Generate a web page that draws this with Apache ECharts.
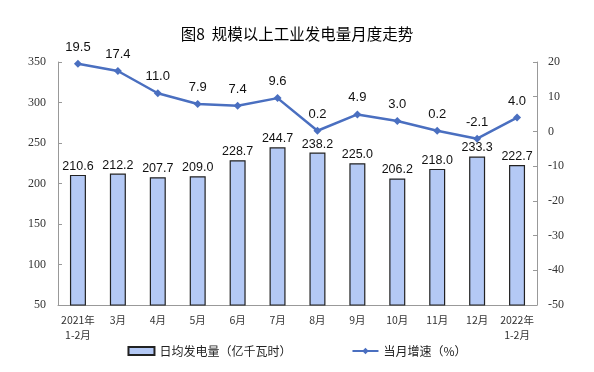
<!DOCTYPE html>
<html><head><meta charset="utf-8">
<script src="https://cdn.jsdelivr.net/npm/echarts@6/dist/echarts.min.js"></script>
<style>html,body{margin:0;padding:0;background:#fff}#c{width:594px;height:372px}</style>
</head><body><div id="c"></div>
<script>
const categories = ['2021年\n1-2月','3月','4月','5月','6月','7月','8月','9月','10月','11月','12月','2022年\n1-2月'];
const dailyOutput = [210.6, 212.2, 207.7, 209.0, 228.7, 244.7, 238.2, 225.0, 206.2, 218.0, 233.3, 222.7];
const growthRate = [19.5, 17.4, 11.0, 7.9, 7.4, 9.6, 0.2, 4.9, 3.0, 0.2, -2.1, 4.0];
const leftTicks = {min: 50, max: 350, interval: 50};
const rightTicks = {min: -50, max: 20, interval: 10};

const chart = echarts.init(document.getElementById('c'), null, {renderer: 'canvas'});
const axisLabelFont = {fontFamily: 'Liberation Serif', fontSize: 12, color: '#333'};
chart.setOption({
  animation: false,
  title: {text: '图8  规模以上工业发电量月度走势', left: 'center', top: 21,
    textStyle: {fontFamily: 'Noto Sans CJK SC', fontSize: 15.5, fontWeight: 'normal', color: '#000'}},
  grid: {left: 58, right: 57, top: 62, bottom: 67},
  legend: {bottom: 10, left: 'center', itemGap: 60, itemWidth: 26, itemHeight: 8,
    textStyle: {fontFamily: 'Noto Sans CJK SC', fontSize: 12, color: '#222'},
    data: [
      {name: '日均发电量（亿千瓦时）', icon: 'rect'},
      {name: '当月增速（%）'}
    ]},
  xAxis: {type: 'category', data: categories,
    axisLine: {onZero: false, lineStyle: {color: '#999'}},
    axisTick: {inside: true, length: 3, lineStyle: {color: '#999'}},
    axisLabel: {fontFamily: 'Noto Sans CJK SC', fontSize: 10.5, color: '#333', margin: 8, lineHeight: 15, interval: 0}},
  yAxis: [
    {type: 'value', min: leftTicks.min, max: leftTicks.max, interval: leftTicks.interval,
      splitLine: {show: false},
      axisLine: {show: true, lineStyle: {color: '#999'}},
      axisTick: {show: true, inside: true, length: 4, lineStyle: {color: '#999'}},
      axisLabel: Object.assign({margin: 12}, axisLabelFont)},
    {type: 'value', min: rightTicks.min, max: rightTicks.max, interval: rightTicks.interval,
      splitLine: {show: false},
      axisLine: {show: true, lineStyle: {color: '#999'}},
      axisTick: {show: true, inside: true, length: 4, lineStyle: {color: '#999'}},
      axisLabel: Object.assign({margin: 11}, axisLabelFont)}
  ],
  series: [
    {name: '日均发电量（亿千瓦时）', type: 'bar', data: dailyOutput, barWidth: 16, yAxisIndex: 0,
      itemStyle: {color: '#b4c9f5', borderColor: '#222', borderWidth: 1.2},
      label: {show: true, position: 'top', distance: 2, formatter: p => p.value.toFixed(1),
        fontFamily: 'Liberation Sans', fontSize: 12.5, color: '#111'}},
    {name: '当月增速（%）', type: 'line', data: growthRate, yAxisIndex: 1,
      symbol: 'diamond', symbolSize: 8,
      lineStyle: {color: '#4a6fc0', width: 2.5},
      itemStyle: {color: '#4a6fc0'},
      label: {show: true, position: 'top', distance: 6, formatter: p => p.value.toFixed(1),
        fontFamily: 'Liberation Sans', fontSize: 13, color: '#111'}}
  ]
});
</script></body></html>
